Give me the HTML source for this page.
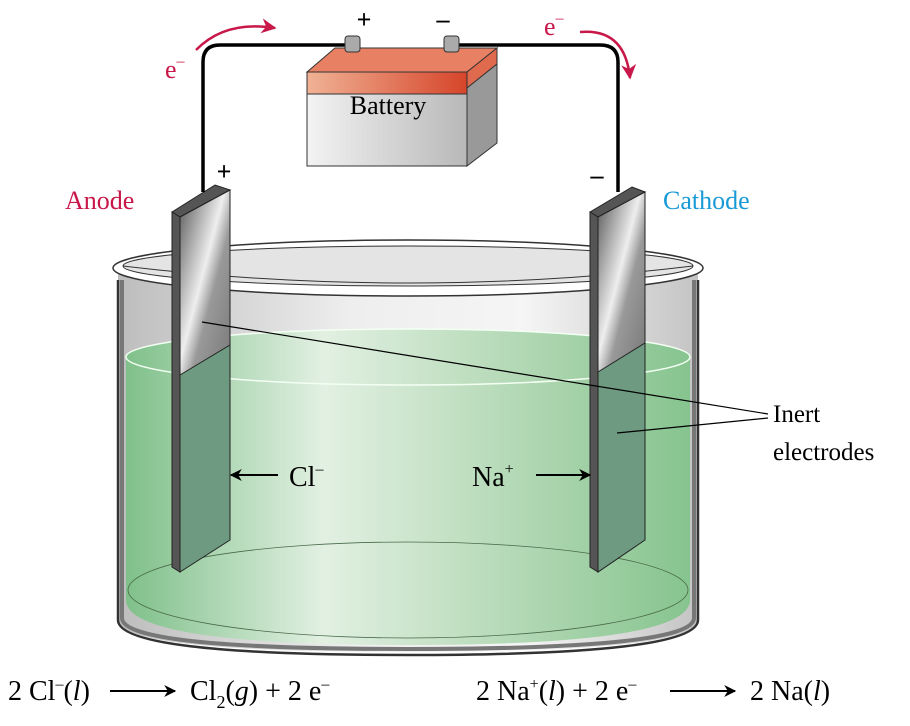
<!DOCTYPE html>
<html><head><meta charset="utf-8"><style>
html,body{margin:0;padding:0;background:#fff;width:910px;height:726px;overflow:hidden}
svg{display:block}
text{font-family:"Liberation Serif",serif}
</style></head><body>
<svg width="910" height="726" viewBox="0 0 910 726" xmlns="http://www.w3.org/2000/svg">
<defs>
<linearGradient id="liq" x1="0" x2="1" y1="0" y2="0">
<stop offset="0" stop-color="#7fc08a"/><stop offset="0.35" stop-color="#e2f0e2"/><stop offset="0.7" stop-color="#b2d8b4"/><stop offset="1" stop-color="#86c48f"/>
</linearGradient>
<linearGradient id="glass" x1="0" x2="1">
<stop offset="0" stop-color="#bdbdbd"/><stop offset="0.4" stop-color="#eeeeee"/><stop offset="0.7" stop-color="#f5f5f5"/><stop offset="1" stop-color="#c4c4c4"/>
</linearGradient>
<linearGradient id="bat" x1="0" x2="1">
<stop offset="0" stop-color="#f3f3f3"/><stop offset="1" stop-color="#b8b8b8"/>
</linearGradient>
<linearGradient id="red" x1="0" x2="1">
<stop offset="0" stop-color="#f0b295"/><stop offset="1" stop-color="#d6452a"/>
</linearGradient>
<linearGradient id="el" x1="0" y1="0" x2="1" y2="1">
<stop offset="0" stop-color="#555"/><stop offset="0.45" stop-color="#eee"/><stop offset="0.6" stop-color="#999"/><stop offset="1" stop-color="#777"/>
</linearGradient>
<marker id="ah" viewBox="0 0 10 10" refX="9" refY="5" markerWidth="6" markerHeight="6" orient="auto"><path d="M0,0L10,5L0,10L3,5z" fill="#000"/></marker>
<marker id="rh" viewBox="0 0 10 10" refX="9" refY="5" markerWidth="6" markerHeight="6" orient="auto"><path d="M0,0L10,5L0,10L3,5z" fill="#c8184a"/></marker>
</defs>

<path d="M118,270 L118,620 Q118,652 408,652 Q698,652 698,620 L698,270 Z" fill="url(#glass)"/>
<path d="M126,355 L126,600 Q126,645 408,645 Q690,645 690,600 L690,355 Z" fill="url(#liq)"/>
<ellipse cx="408" cy="357" rx="282" ry="28" fill="url(#liq)" stroke="#f4fff4" stroke-width="1.5"/>
<ellipse cx="408" cy="590" rx="280" ry="48" fill="none" stroke="#4a6a4a" stroke-width="0.8"/>
<path d="M118,280 L118,620 Q118,655 408,655 Q698,655 698,620 L698,280" fill="none" stroke="#333" stroke-width="2.5"/>
<path d="M122,280 L122,618 Q122,649 408,649 Q694,649 694,618 L694,280" fill="none" stroke="#777" stroke-width="4"/>
<ellipse cx="408" cy="268" rx="295" ry="28" fill="#fff" stroke="#333" stroke-width="1.5"/>
<ellipse cx="408" cy="266" rx="285" ry="20" fill="#e4e4e4" stroke="#333" stroke-width="1"/>
<path d="M123,266 Q408,300 693,266" fill="none" stroke="#333" stroke-width="1"/>

<polygon points="172,212 215,185 230,190 180,217" fill="#555" stroke="#222"/>
<polygon points="172,212 180,217 180,572 172,567" fill="#555" stroke="#222"/>
<polygon points="180,217 230,190 230,350 180,380" fill="url(#el)" stroke="#222"/>
<polygon points="180,375 230,345 230,540 180,572" fill="#6d9a80" stroke="#222"/>
<polygon points="590,212 632,187 645,192 598,217" fill="#555" stroke="#222"/>
<polygon points="590,212 598,217 598,572 590,567" fill="#555" stroke="#222"/>
<polygon points="598,217 645,192 645,345 598,375" fill="url(#el)" stroke="#222"/>
<polygon points="598,372 645,343 645,540 598,572" fill="#6d9a80" stroke="#222"/>

<path d="M203,192 L203,62 Q203,45 220,45 L350,45" fill="none" stroke="#000" stroke-width="3.5"/>
<path d="M455,45 L600,45 Q618,45 618,62 L618,192" fill="none" stroke="#000" stroke-width="3.5"/>

<polygon points="307,72 335,48 497,48 467,72" fill="#e88064" stroke="#333"/>
<rect x="307" y="72" width="160" height="22" fill="url(#red)" stroke="#333"/>
<rect x="307" y="94" width="160" height="72" fill="url(#bat)" stroke="#333"/>
<polygon points="467,72 497,48 497,64 467,88" fill="#e06a4e" stroke="#333"/>
<polygon points="467,88 497,64 497,143 467,166" fill="#999" stroke="#333"/>
<rect x="345" y="36" width="15" height="16" rx="3" fill="#aaa" stroke="#333"/>
<rect x="444" y="36" width="15" height="16" rx="3" fill="#aaa" stroke="#333"/>
<text x="388" y="114" font-size="26" text-anchor="middle">Battery</text>

<text x="364" y="28" font-size="26" text-anchor="middle" font-weight="bold">+</text>
<text x="443" y="28" font-size="26" text-anchor="middle" font-weight="bold">–</text>
<text x="224" y="180" font-size="26" text-anchor="middle" font-weight="bold">+</text>
<text x="597" y="184" font-size="26" text-anchor="middle" font-weight="bold">–</text>

<text x="165" y="78" font-size="26" fill="#c8184a">e<tspan dy="-12" font-size="16">–</tspan></text>
<path d="M196,50 Q225,20 275,28" fill="none" stroke="#c8184a" stroke-width="2.5" marker-end="url(#rh)"/>
<text x="544" y="35" font-size="26" fill="#c8184a">e<tspan dy="-12" font-size="16">–</tspan></text>
<path d="M580,32 Q625,28 630,78" fill="none" stroke="#c8184a" stroke-width="2.5" marker-end="url(#rh)"/>

<text x="65" y="209" font-size="26" fill="#c8184a">Anode</text>
<text x="663" y="209" font-size="26" fill="#1a9ad6">Cathode</text>

<line x1="202" y1="322" x2="768" y2="414" stroke="#000" stroke-width="1.2"/>
<line x1="617" y1="433" x2="768" y2="418" stroke="#000" stroke-width="1.2"/>
<text x="773" y="422" font-size="25">Inert</text>
<text x="773" y="460" font-size="25">electrodes</text>

<line x1="278" y1="475" x2="231" y2="475" stroke="#000" stroke-width="2" marker-end="url(#ah)"/>
<text x="289" y="486" font-size="28">Cl<tspan dy="-12" font-size="16">–</tspan></text>
<text x="472" y="486" font-size="28">Na<tspan dy="-12" font-size="16">+</tspan></text>
<line x1="536" y1="475" x2="590" y2="475" stroke="#000" stroke-width="2" marker-end="url(#ah)"/>

<text x="8" y="700" font-size="28">2 Cl<tspan dy="-11" font-size="16">–</tspan><tspan dy="11">(</tspan><tspan font-style="italic">l</tspan>)</text>
<line x1="110" y1="691" x2="175" y2="691" stroke="#000" stroke-width="2" marker-end="url(#ah)"/>
<text x="190" y="700" font-size="28">Cl<tspan dy="8" font-size="18">2</tspan><tspan dy="-8">(</tspan><tspan font-style="italic">g</tspan>) + 2 e<tspan dy="-11" font-size="16">–</tspan></text>
<text x="476" y="700" font-size="28">2 Na<tspan dy="-11" font-size="16">+</tspan><tspan dy="11">(</tspan><tspan font-style="italic">l</tspan>) + 2 e<tspan dy="-11" font-size="16">–</tspan></text>
<line x1="670" y1="691" x2="735" y2="691" stroke="#000" stroke-width="2" marker-end="url(#ah)"/>
<text x="750" y="700" font-size="28">2 Na(<tspan font-style="italic">l</tspan>)</text>
</svg>
</body></html>
